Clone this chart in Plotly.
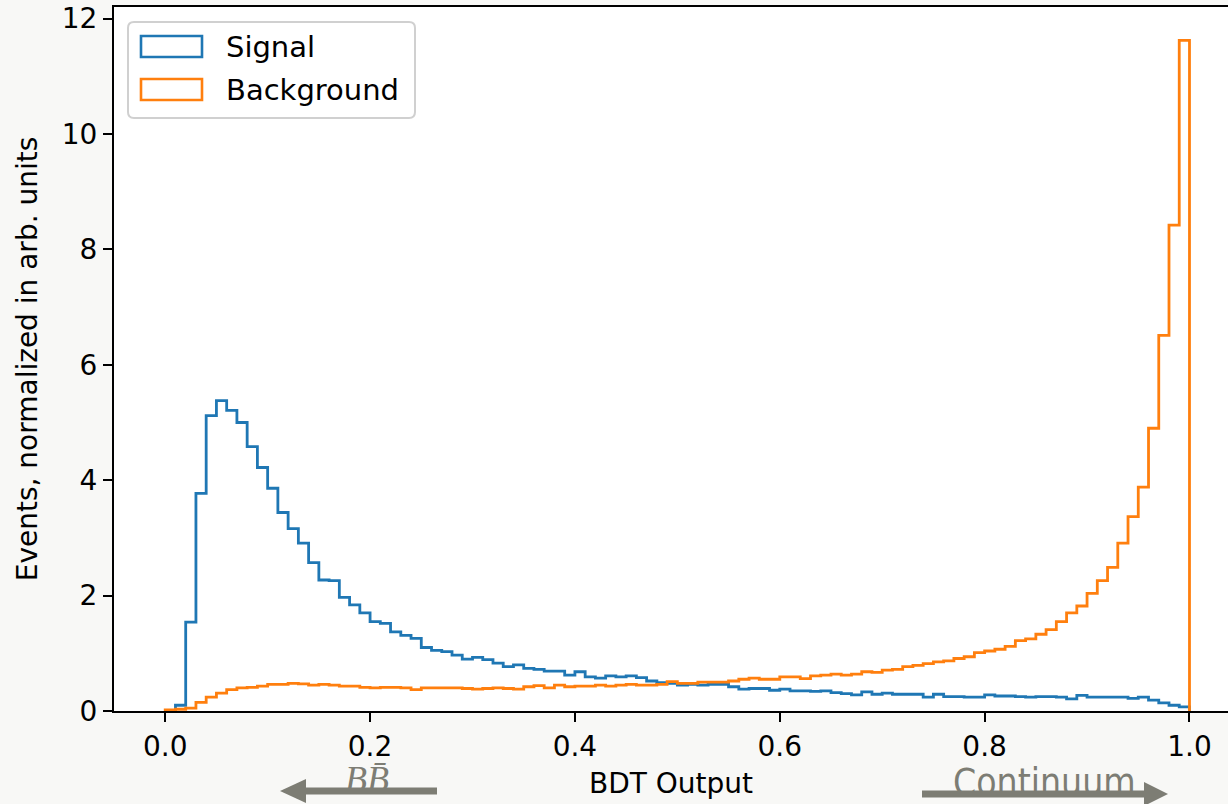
import numpy as np
import plotly.graph_objects as go

# ---------------- data ----------------
bin_edges = np.linspace(0.0, 1.0, 101)

signal = [0.00, 0.10, 1.54, 3.77, 5.12, 5.38, 5.21, 5.00, 4.58, 4.22,
          3.86, 3.44, 3.16, 2.91, 2.57, 2.27, 2.26, 1.97, 1.84, 1.70,
          1.55, 1.52, 1.37, 1.31, 1.26, 1.10, 1.05, 1.03, 0.97, 0.90,
          0.93, 0.89, 0.83, 0.77, 0.80, 0.74, 0.72, 0.69, 0.69, 0.62,
          0.68, 0.59, 0.57, 0.61, 0.59, 0.61, 0.58, 0.52, 0.49, 0.48,
          0.45, 0.46, 0.45, 0.46, 0.46, 0.42, 0.38, 0.39, 0.39, 0.36,
          0.38, 0.35, 0.35, 0.34, 0.35, 0.32, 0.30, 0.28, 0.33, 0.29,
          0.31, 0.29, 0.29, 0.29, 0.24, 0.29, 0.25, 0.25, 0.24, 0.24,
          0.28, 0.26, 0.26, 0.25, 0.24, 0.25, 0.25, 0.24, 0.21, 0.27,
          0.24, 0.24, 0.24, 0.24, 0.22, 0.24, 0.19, 0.14, 0.10, 0.07]

background = [0.02, 0.03, 0.05, 0.15, 0.24, 0.31, 0.37, 0.40, 0.41, 0.43,
              0.46, 0.46, 0.48, 0.47, 0.45, 0.46, 0.45, 0.43, 0.43, 0.41,
              0.40, 0.41, 0.41, 0.40, 0.37, 0.40, 0.40, 0.40, 0.40, 0.39,
              0.38, 0.39, 0.40, 0.39, 0.38, 0.42, 0.44, 0.40, 0.45, 0.42,
              0.43, 0.43, 0.45, 0.43, 0.45, 0.46, 0.45, 0.45, 0.46, 0.51,
              0.48, 0.48, 0.50, 0.50, 0.50, 0.52, 0.55, 0.57, 0.55, 0.55,
              0.59, 0.59, 0.56, 0.61, 0.62, 0.64, 0.62, 0.64, 0.68, 0.67,
              0.71, 0.72, 0.77, 0.79, 0.82, 0.85, 0.87, 0.91, 0.94, 1.01,
              1.04, 1.07, 1.12, 1.22, 1.25, 1.33, 1.41, 1.55, 1.70, 1.82,
              2.04, 2.26, 2.49, 2.91, 3.37, 3.88, 4.90, 6.51, 8.42, 11.62]

series_names = ["Signal", "Background"]
series_colors = ["#1f77b4", "#ff7f0e"]

x_tickvals = [0.0, 0.2, 0.4, 0.6, 0.8, 1.0]
x_ticktext = ["0.0", "0.2", "0.4", "0.6", "0.8", "1.0"]
y_tickvals = [0, 2, 4, 6, 8, 10, 12]
y_ticktext = ["0", "2", "4", "6", "8", "10", "12"]

x_title = "BDT Output"
y_title = "Events, normalized in arb. units"
left_label = "<i>B</i><i>B\u0304</i>"
right_label = "Continuum"

# ---------------- layout geometry ----------------
W, H = 1228, 804
L, R, T, B = 114, 0, 7, 93
FONT = "DejaVu Sans"
GRAY = "#7d7d74"
BG = "#f8f8f6"


def pxx(px):
    return (px - L) / (W - L - R)


def pxy(py):
    return (H - B - py) / (H - T - B)


def step_xy(edges, vals):
    xs = [edges[0]] + list(edges[:-1]) + [edges[-1], edges[-1]]
    ys = [0.0] + list(vals) + [vals[-1], 0.0]
    return xs, ys


fig = go.Figure()
for name, vals, col in zip(series_names, [signal, background], series_colors):
    xs, ys = step_xy(bin_edges, vals)
    fig.add_trace(go.Scatter(x=xs, y=ys, mode="lines", name=name,
                             line=dict(color=col, width=2.8, shape="hv"),
                             showlegend=False, hoverinfo="skip"))

shapes = []
annotations = []

# legend frame (rounded)
x0, x1, y0, y1, r = 128, 415, 22, 118, 6
pts = [
    ("M", [(x0 + r, y0)]), ("L", [(x1 - r, y0)]), ("Q", [(x1, y0), (x1, y0 + r)]),
    ("L", [(x1, y1 - r)]), ("Q", [(x1, y1), (x1 - r, y1)]), ("L", [(x0 + r, y1)]),
    ("Q", [(x0, y1), (x0, y1 - r)]), ("L", [(x0, y0 + r)]), ("Q", [(x0, y0), (x0 + r, y0)]),
]
path = ""
for cmd, pp in pts:
    path += cmd + " ".join(f"{pxx(a):.5f},{pxy(b):.5f}" for a, b in pp) + " "
path += "Z"
shapes.append(dict(type="path", xref="paper", yref="paper", path=path,
                   fillcolor="rgba(255,255,255,0.85)",
                   line=dict(color="#d0d0d0", width=2), layer="above"))

for i, (name, col) in enumerate(zip(series_names, series_colors)):
    ytop = 36 + i * 43
    shapes.append(dict(type="rect", xref="paper", yref="paper",
                       x0=pxx(141), x1=pxx(202), y0=pxy(ytop), y1=pxy(ytop + 21),
                       fillcolor="white", line=dict(color=col, width=2.6),
                       layer="above"))
    annotations.append(dict(xref="paper", yref="paper", x=pxx(224),
                            y=pxy(ytop + 11), xanchor="left", yanchor="middle",
                            text=name, showarrow=False,
                            font=dict(family=FONT, size=29, color="black")))

# bottom arrows
shapes.append(dict(type="line", xref="paper", yref="paper",
                   x0=pxx(300), x1=pxx(437), y0=pxy(791), y1=pxy(791),
                   line=dict(color=GRAY, width=7), layer="above"))
shapes.append(dict(type="path", xref="paper", yref="paper",
                   path=f"M{pxx(280)},{pxy(791)} L{pxx(306)},{pxy(779)} L{pxx(306)},{pxy(803)} Z",
                   fillcolor=GRAY, line=dict(color=GRAY, width=0), layer="above"))
shapes.append(dict(type="line", xref="paper", yref="paper",
                   x0=pxx(922), x1=pxx(1148), y0=pxy(794), y1=pxy(794),
                   line=dict(color=GRAY, width=7), layer="above"))
shapes.append(dict(type="path", xref="paper", yref="paper",
                   path=f"M{pxx(1168)},{pxy(794)} L{pxx(1144)},{pxy(782)} L{pxx(1144)},{pxy(806)} Z",
                   fillcolor=GRAY, line=dict(color=GRAY, width=0), layer="above"))

annotations.append(dict(xref="paper", yref="paper", x=pxx(367), y=pxy(779),
                        xanchor="center", yanchor="middle", text=left_label,
                        showarrow=False,
                        font=dict(family="Liberation Serif", size=36, color=GRAY)))
annotations.append(dict(xref="paper", yref="paper", x=pxx(1044), y=pxy(782),
                        xanchor="center", yanchor="middle", text=right_label,
                        showarrow=False,
                        font=dict(family="DejaVu Sans Condensed, DejaVu Sans", size=37, color=GRAY)))

fig.update_layout(
    width=W, height=H,
    margin=dict(l=L, r=R, t=T, b=B, pad=0),
    paper_bgcolor=BG,
    plot_bgcolor="white",
    font=dict(family=FONT, size=29, color="black"),
    shapes=shapes,
    annotations=annotations,
    showlegend=False,
)
fig.update_xaxes(range=[-0.05, 1.0376], tickvals=x_tickvals, ticktext=x_ticktext,
                 ticks="outside", ticklen=9, tickwidth=2, tickcolor="black",
                 showline=True, linecolor="black", linewidth=2, mirror=True,
                 showgrid=False, zeroline=False,
                 tickfont=dict(family=FONT, size=28),
                 title=dict(text=x_title, font=dict(family=FONT, size=28), standoff=12))
fig.update_yaxes(range=[0, 12.2], tickvals=y_tickvals, ticktext=y_ticktext,
                 ticks="outside", ticklen=9, tickwidth=2, tickcolor="black",
                 showline=True, linecolor="black", linewidth=2, mirror=False,
                 showgrid=False, zeroline=False,
                 tickfont=dict(family=FONT, size=28),
                 title=dict(text=y_title, font=dict(family=FONT, size=28), standoff=16))

fig.write_html("out.html",
               config={"displayModeBar": False},
               post_script="document.body.style.margin='0';document.body.style.background='" + BG + "';")
